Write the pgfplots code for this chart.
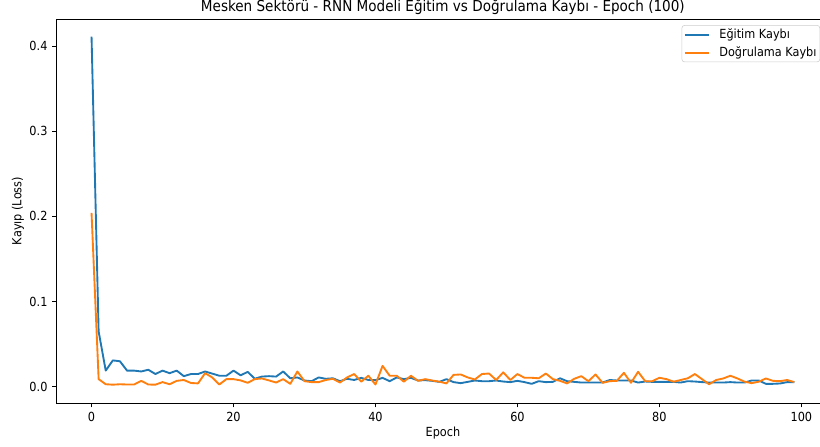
\documentclass[border=0pt]{standalone}
\usepackage{fontspec}
\setmainfont{DejaVu Sans Condensed}
\usepackage{pgfplots}
\pgfplotsset{compat=1.18}
\definecolor{tabblue}{HTML}{1F77B4}
\definecolor{taborange}{HTML}{FF7F0E}
\begin{document}
\begin{tikzpicture}
\begin{axis}[
  scale only axis,
  width=579.75pt, height=288pt,
  xmin=-4.95, xmax=103.95,
  ymin=-0.0190, ymax=0.4316,
  xtick={0,20,40,60,80,100},
  ytick={0,0.1,0.2,0.3,0.4},
  yticklabel style={/pgf/number format/.cd,fixed,fixed zerofill,precision=1},
  /pgf/number format/assume math mode=true,
  tick label style={font=\fontsize{9.4}{11}\selectfont},
  xtick pos=bottom, ytick pos=left,
  tick align=outside,
  major tick length=3.2pt,
  axis line style={line width=0.7pt},
  every tick/.style={black, line width=0.6pt},
  every axis title shift=0pt,
  title={Mesken Sektörü - RNN Modeli Eğitim vs Doğrulama Kaybı - Epoch (100)},
  title style={at={(axis description cs:0.5,1)}, anchor=base, yshift=5.4pt, font=\fontsize{11.3}{13}\selectfont},
  xlabel={Epoch},
  xlabel style={at={(axis description cs:0.5,-0.078)}, anchor=center, font=\fontsize{9.4}{11}\selectfont},
  ylabel={Kayıp (Loss)},
  ylabel style={at={(axis description cs:-0.0497,0.5)}, anchor=center, rotate=0, font=\fontsize{9.4}{11}\selectfont},
  legend style={at={(axis description cs:1,1)}, anchor=north east, xshift=-7pt, yshift=-4.6pt,
    draw=black!20, rounded corners=2pt, font=\fontsize{9.4}{11}\selectfont,
    inner xsep=1.5pt, inner ysep=1.5pt, row sep=2.6pt, nodes={inner sep=1pt}},
  legend cell align=left,
  legend image code/.code={\draw[#1, line width=1.4pt] (0pt,0pt) -- (18pt,0pt); \path (24.2pt,0pt);},
  every axis plot/.append style={line width=1.4pt, line join=round},
]
\addplot[tabblue, mark=none] coordinates {
(0,0.411)(1,0.065)(2,0.019)(3,0.031)(4,0.030)(5,0.019)(6,0.019)(7,0.018)(8,0.020)(9,0.015)
(10,0.019)(11,0.016)(12,0.019)(13,0.0125)(14,0.015)(15,0.015)(16,0.018)(17,0.0155)(18,0.013)(19,0.013)
(20,0.019)(21,0.0135)(22,0.0175)(23,0.0095)(24,0.012)(25,0.0125)(26,0.012)(27,0.018)(28,0.010)(29,0.011)
(30,0.0074)(31,0.0066)(32,0.011)(33,0.0094)(34,0.010)(35,0.0066)(36,0.0094)(37,0.0080)(38,0.0105)(39,0.0080)
(40,0.0078)(41,0.0105)(42,0.0066)(43,0.011)(44,0.0090)(45,0.0105)(46,0.0074)(47,0.0078)(48,0.0070)(49,0.0058)
(50,0.009)(51,0.0055)(52,0.0043)(53,0.0058)(54,0.0074)(55,0.0066)(56,0.0066)(57,0.0074)(58,0.0062)(59,0.0055)
(60,0.0070)(61,0.0055)(62,0.0035)(63,0.0066)(64,0.0055)(65,0.0058)(66,0.010)(67,0.0066)(68,0.0058)(69,0.0050)
(70,0.0050)(71,0.0050)(72,0.0050)(73,0.0080)(74,0.0074)(75,0.0074)(76,0.0074)(77,0.0050)(78,0.0062)(79,0.0058)
(80,0.0058)(81,0.0058)(82,0.0058)(83,0.0050)(84,0.0066)(85,0.0062)(86,0.0055)(87,0.0050)(88,0.0050)(89,0.0050)
(90,0.0055)(91,0.0050)(92,0.0050)(93,0.0074)(94,0.0074)(95,0.0035)(96,0.0035)(97,0.0039)(98,0.0055)(99,0.0055)
};
\addlegendentry{Eğitim Kaybı}
\addplot[taborange, mark=none] coordinates {
(0,0.204)(1,0.009)(2,0.003)(3,0.0025)(4,0.003)(5,0.0027)(6,0.0027)(7,0.007)(8,0.0027)(9,0.0025)
(10,0.0055)(11,0.003)(12,0.007)(13,0.008)(14,0.0045)(15,0.004)(16,0.016)(17,0.011)(18,0.0027)(19,0.009)
(20,0.009)(21,0.0075)(22,0.0047)(23,0.009)(24,0.0098)(25,0.0075)(26,0.005)(27,0.009)(28,0.0035)(29,0.018)
(30,0.0066)(31,0.0055)(32,0.0055)(33,0.008)(34,0.0094)(35,0.005)(36,0.011)(37,0.015)(38,0.006)(39,0.013)
(40,0.0027)(41,0.0246)(42,0.013)(43,0.013)(44,0.006)(45,0.013)(46,0.007)(47,0.009)(48,0.0074)(49,0.006)
(50,0.004)(51,0.014)(52,0.0145)(53,0.011)(54,0.0086)(55,0.015)(56,0.0156)(57,0.008)(58,0.017)(59,0.008)
(60,0.015)(61,0.0106)(62,0.0106)(63,0.010)(64,0.0156)(65,0.009)(66,0.007)(67,0.004)(68,0.0094)(69,0.0125)
(70,0.0066)(71,0.0145)(72,0.0047)(73,0.0066)(74,0.007)(75,0.0164)(76,0.0047)(77,0.0176)(78,0.0066)(79,0.0066)
(80,0.0106)(81,0.009)(82,0.006)(83,0.008)(84,0.010)(85,0.015)(86,0.009)(87,0.003)(88,0.008)(89,0.0098)
(90,0.013)(91,0.0098)(92,0.006)(93,0.0043)(94,0.006)(95,0.0098)(96,0.007)(97,0.0066)(98,0.008)(99,0.0055)
};
\addlegendentry{Doğrulama Kaybı}
\end{axis}
\pgfresetboundingbox
\useasboundingbox ([xshift=-42.3pt,yshift=-32.25pt]current axis.south west) rectangle ([xshift=572.7pt,yshift=14.25pt]current axis.north west);
\end{tikzpicture}
\end{document}
